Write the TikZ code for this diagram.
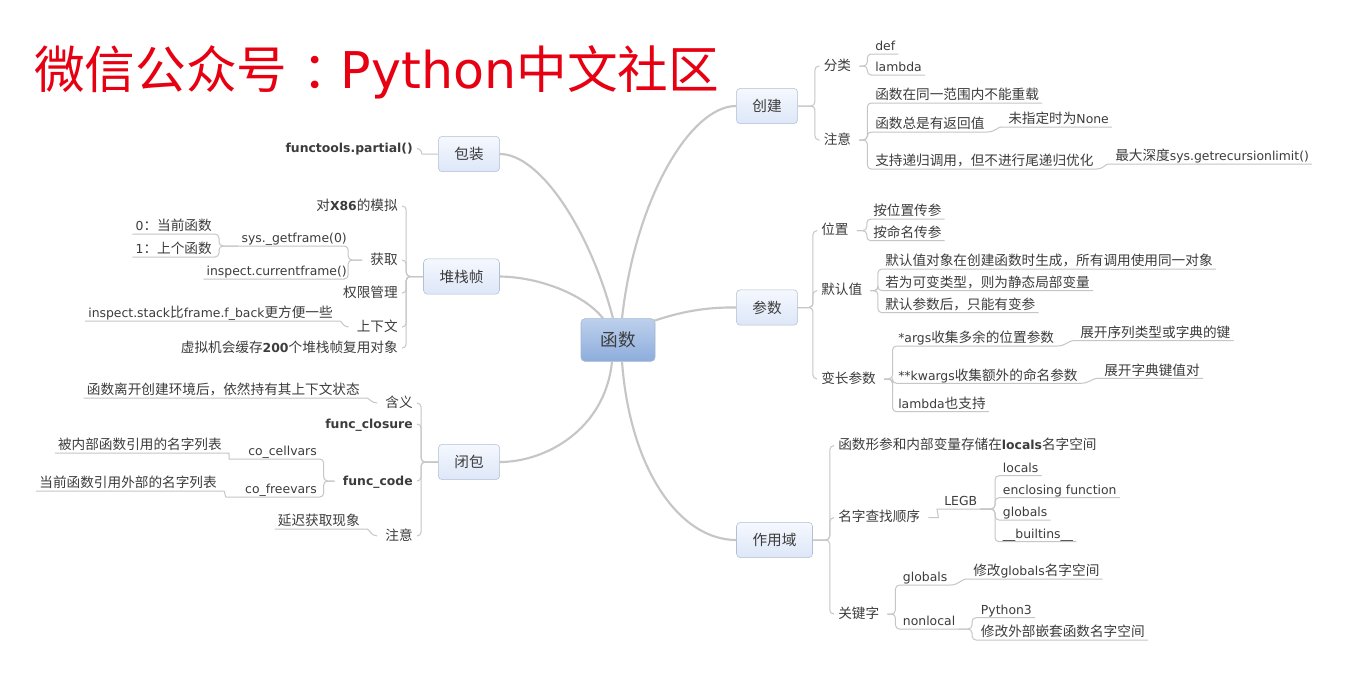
\documentclass[tikz,border=0pt]{standalone}
\usepackage{fontspec}
\setmainfont{DejaVu Sans}
\newfontfamily\zh{Noto Sans CJK SC}[Scale=1.1]
\newfontfamily\zhtitle{Noto Sans CJK SC}

\definecolor{linegray}{HTML}{C6C6C6}
\definecolor{textgray}{HTML}{3C3C3C}
\definecolor{boxline}{HTML}{B3BFD3}
\definecolor{boxtop}{HTML}{F5F8FE}
\definecolor{boxbot}{HTML}{DDE7F8}
\definecolor{roottop}{HTML}{BDD0EC}
\definecolor{rootbot}{HTML}{8DADDC}
\definecolor{rootline}{HTML}{A3B6D2}
\definecolor{titlered}{HTML}{E60012}

\tikzset{
  root/.style={draw=rootline, rounded corners=3pt, top color=roottop, bottom color=rootbot,
    minimum width=55.5pt, minimum height=32pt, font=\fontsize{12}{14}\selectfont\zh, text=textgray},
  topic/.style={draw=boxline, rounded corners=3pt, top color=boxtop, bottom color=boxbot,
    inner xsep=12pt, minimum height=26.5pt, font=\fontsize{10}{12}\selectfont\zh, text=textgray},
  subtopic/.style={inner xsep=3pt, inner ysep=1pt, text height=8pt, text depth=2pt,
    font=\fontsize{9.3}{11}\selectfont, text=textgray},
  leaf/.style={subtopic, inner xsep=2.25pt, inner ysep=0.75pt, text depth=1.5pt},
  trunk/.style={draw=linegray, line width=1.6pt},
  link/.style={draw=linegray, line width=0.75pt, rounded corners=3pt},
}

\begin{document}
\begin{tikzpicture}[x=0.75pt,y=-0.75pt]
\useasboundingbox (0,0) rectangle (1355,679);
\fill[white] (0,0) rectangle (1355,679);

% The title
\node[anchor=base west, inner sep=0, text=titlered, font=\fontsize{38}{44}\selectfont] (title)
  at (34,88) {{\zhtitle 微信公众号}\kern0.3em{\zhtitle ：}\kern-0.25em Python{\zhtitle 中文社区}};

% The centre and the topics
\node[root] (fn) at (618,340) {函数};
\node[topic] (bz) at (469,154) {包装};
\node[topic] (dz) at (461.5,276.5) {堆栈帧};
\node[topic] (bb) at (469,462) {闭包};
\node[topic] (cj) at (767,106) {创建};
\node[topic] (cs) at (767,307.5) {参数};
\node[topic] (zy) at (774.5,540) {作用域};

\draw[trunk] ([xshift=-3.75pt]fn.north) .. controls (590,230) and (540,154) .. (bz.east);
\draw[trunk] ([xshift=-11.25pt]fn.north) .. controls (585,295) and (540,277) .. (dz.east);
\draw[trunk] ([xshift=3pt]fn.north) .. controls (635,200) and (690,106) .. (cj.west);
\draw[trunk] ([xshift=-1.5pt,yshift=-2pt]fn.north east) .. controls (680,312) and (705,307) .. (cs.west);
\draw[trunk] ([xshift=-4.5pt]fn.south) .. controls (605,430) and (545,462) .. (bb.east);
\draw[trunk] ([xshift=3pt]fn.south) .. controls (630,470) and (680,540) .. (zy.west);

% Wrapping
\node[subtopic, anchor=east] (fp) at (417,148.5) {\textbf{functools.partial()}};
\draw[link] (bz.west) -- ++(-12,0) to[out=180,in=0] (fp.east);

% Stack frame
\node[subtopic, anchor=east] (x86) at (402,206) {{\zh 对}\textbf{X86}{\zh 的模拟}};
\node[subtopic, anchor=east] (hq) at (402,260) {\zh 获取};
\node[subtopic, anchor=east] (qx) at (402,293) {\zh 权限管理};
\node[subtopic, anchor=east] (sxw) at (402,327) {\zh 上下文};
\node[subtopic, anchor=east] (xnj) at (402,348) {{\zh 虚拟机会缓存}\textbf{200}{\zh 个堆栈帧复用对象}};
\foreach \nd in {x86,hq,qx,sxw,xnj}
  \draw[link] (dz.west) -- ++(-17,0) |- (\nd.east);

\node[leaf, anchor=south east] (sys) at (350,246) {sys.\_getframe(0)};
\node[leaf, anchor=south east] (insp) at (350,279) {inspect.currentframe()};
\foreach \nd in {sys,insp}
  \draw[link] ([xshift=-3pt]hq.west) -- ++(-14,0) |- (\nd.south west);

\coordinate (sysj) at (219,246);
\node[leaf, anchor=south east] (z0) at (215,234) {0{\zh ：当前函数}};
\node[leaf, anchor=south east] (z1) at (215,257) {1{\zh ：上个函数}};
\foreach \nd in {z0,z1}
  \draw[link] (sys.south west) -- (sysj) |- (\nd.south west);

\node[leaf, anchor=south east] (ist) at (336,321) {inspect.stack{\zh 比}frame.f\_back{\zh 更方便一些}};
\draw[link] ([xshift=-3pt]sxw.west) to[out=180,in=0] (ist.south east) -- (ist.south west);

% Closure
\node[subtopic, anchor=east] (hy) at (417,403) {\zh 含义};
\node[subtopic, anchor=east] (fcl) at (417,424) {\textbf{func\_closure}};
\node[subtopic, anchor=east] (fcd) at (417,481) {\textbf{func\_code}};
\node[subtopic, anchor=east] (bbzy) at (417,536) {\zh 注意};
\foreach \nd in {hy,fcl,fcd,bbzy}
  \draw[link] (bb.west) -- ++(-17,0) |- (\nd.east);

\node[leaf, anchor=south east] (lk) at (363,398) {\zh 函数离开创建环境后，依然持有其上下文状态};
\draw[link] ([xshift=-3pt]hy.west) to[out=180,in=0] (lk.south east) -- (lk.south west);

\node[leaf, anchor=south east] (cc) at (320,459) {co\_cellvars};
\node[leaf, anchor=south east] (cf) at (320,497) {co\_freevars};
\foreach \nd in {cc,cf}
  \draw[link] ([xshift=-3pt]fcd.west) -- ++(-11,0) |- (\nd.south west);

\node[leaf, anchor=south east] (nb) at (225,453) {\zh 被内部函数引用的名字列表};
\node[leaf, anchor=south east] (dq) at (220,491) {\zh 当前函数引用外部的名字列表};
\draw[link] (cc.south west) -- ++(-12,0) to[out=180,in=0] (nb.south east) -- (nb.south west);
\draw[link] (cf.south west) -- ++(-12,0) to[out=180,in=0] (dq.south east) -- (dq.south west);

\node[leaf, anchor=south east] (yc) at (363,529) {\zh 延迟获取现象};
\draw[link] ([xshift=-3pt]bbzy.west) to[out=180,in=0] (yc.south east) -- (yc.south west);

% Creation
\node[subtopic, anchor=west] (fl) at (819.5,66) {\zh 分类};
\node[subtopic, anchor=west] (cjzy) at (819.5,140) {\zh 注意};
\foreach \nd in {fl,cjzy}
  \draw[link] (cj.east) -- ++(17,0) |- (\nd.west);

\node[leaf, anchor=south west] (df) at (872,54) {def};
\node[leaf, anchor=south west] (lbd) at (872,75) {lambda};
\foreach \nd in {df,lbd}
  \draw[link] ([xshift=3pt]fl.east) -- ++(8,0) |- (\nd.south east);

\node[leaf, anchor=south west] (nozz) at (872,103) {\zh 函数在同一范围内不能重载};
\node[leaf, anchor=south west] (fhz) at (872,132) {\zh 函数总是有返回值};
\node[leaf, anchor=south west] (dg) at (872,169) {\zh 支持递归调用，但不进行尾递归优化};
\foreach \nd in {nozz,fhz,dg}
  \draw[link] ([xshift=3pt]cjzy.east) -- ++(8,0) |- (\nd.south east);

\node[leaf, anchor=south west] (none) at (1005,127) {{\zh 未指定时为}None};
\node[leaf, anchor=south west] (sdx) at (1112,164) {{\zh 最大深度}sys.getrecursionlimit()};
\draw[link] (fhz.south east) to[out=0,in=180] (none.south west) -- (none.south east);
\draw[link] (dg.south east) to[out=0,in=180] (sdx.south west) -- (sdx.south east);

% Parameters
\node[subtopic, anchor=west] (wz) at (817,230.7) {\zh 位置};
\node[subtopic, anchor=west] (mrz) at (817,290.7) {\zh 默认值};
\node[subtopic, anchor=west] (bc) at (817,379) {\zh 变长参数};
\foreach \nd in {wz,mrz,bc}
  \draw[link] (cs.east) -- ++(15,0) |- (\nd.west);

\node[leaf, anchor=south west] (wzc) at (870,219) {\zh 按位置传参};
\node[leaf, anchor=south west] (mmc) at (870,240.7) {\zh 按命名传参};
\foreach \nd in {wzc,mmc}
  \draw[link] ([xshift=3pt]wz.east) -- ++(10,0) |- (\nd.south east);

\node[leaf, anchor=south west] (mr1) at (882,269) {\zh 默认值对象在创建函数时生成，所有调用使用同一对象};
\node[leaf, anchor=south west] (mr2) at (882,290.7) {\zh 若为可变类型，则为静态局部变量};
\node[leaf, anchor=south west] (mr3) at (882,312.7) {\zh 默认参数后，只能有变参};
\foreach \nd in {mr1,mr2,mr3}
  \draw[link] ([xshift=3pt]mrz.east) -- ++(7.5,0) |- (\nd.south east);

\node[leaf, anchor=south west] (args) at (895,346) {*args{\zh 收集多余的位置参数}};
\node[leaf, anchor=south west] (kw) at (895,383.3) {**kwargs{\zh 收集额外的命名参数}};
\node[leaf, anchor=south west] (lz) at (895,411.7) {lambda{\zh 也支持}};
\foreach \nd in {args,kw,lz}
  \draw[link] ([xshift=3pt]bc.east) -- ++(8.4,0) |- (\nd.south east);

\node[leaf, anchor=south west] (zk) at (1077,340.7) {\zh 展开序列类型或字典的键};
\node[leaf, anchor=south west] (zd) at (1101,378.3) {\zh 展开字典键值对};
\draw[link] (args.south east) to[out=0,in=180] (zk.south west) -- (zk.south east);
\draw[link] (kw.south east) to[out=0,in=180] (zd.south west) -- (zd.south east);

% Scope
\node[subtopic, anchor=west] (kj) at (834,445.7) {{\zh 函数形参和内部变量存储在}\textbf{locals}{\zh 名字空间}};
\node[subtopic, anchor=west] (cz) at (834,517.7) {\zh 名字查找顺序};
\node[subtopic, anchor=west] (gjz) at (834,614) {\zh 关键字};
\foreach \nd in {kj,cz,gjz}
  \draw[link] (zy.east) -- ++(17,0) |- (\nd.west);

\node[leaf, anchor=south west] (legb) at (941,509) {LEGB};
\coordinate (legbj) at (995,509);
\draw[link] ([xshift=3pt]cz.east) -- ++(6,0) to[out=0,in=180] (legb.south west) -- (legb.south east);

\node[leaf, anchor=south west] (lc) at (999.7,475.7) {locals};
\node[leaf, anchor=south west] (enc) at (999.7,497.7) {enclosing function};
\node[leaf, anchor=south west] (glb) at (999.7,520) {globals};
\node[leaf, anchor=south west] (blt) at (999.7,541.7) {\_\_builtins\_\_};
\foreach \nd in {lc,enc,glb,blt}
  \draw[link] (legb.south east) -- (legbj) |- (\nd.south east);

\node[leaf, anchor=south west] (gl) at (899.7,585) {globals};
\node[leaf, anchor=south west] (nl) at (899.7,629) {nonlocal};
\foreach \nd in {gl,nl}
  \draw[link] ([xshift=3pt]gjz.east) -- ++(8,0) |- (\nd.south east);

\node[leaf, anchor=south west] (xg) at (970,579) {{\zh 修改}globals{\zh 名字空间}};
\draw[link] (gl.south east) to[out=0,in=180] (xg.south west) -- (xg.south east);

\coordinate (nlj) at (972,629);
\node[leaf, anchor=south west] (py3) at (977.7,617.7) {Python3};
\node[leaf, anchor=south west] (xw) at (977.7,640) {\zh 修改外部嵌套函数名字空间};
\foreach \nd in {py3,xw}
  \draw[link] (nl.south east) -- (nlj) |- (\nd.south east);

\end{tikzpicture}
\end{document}
